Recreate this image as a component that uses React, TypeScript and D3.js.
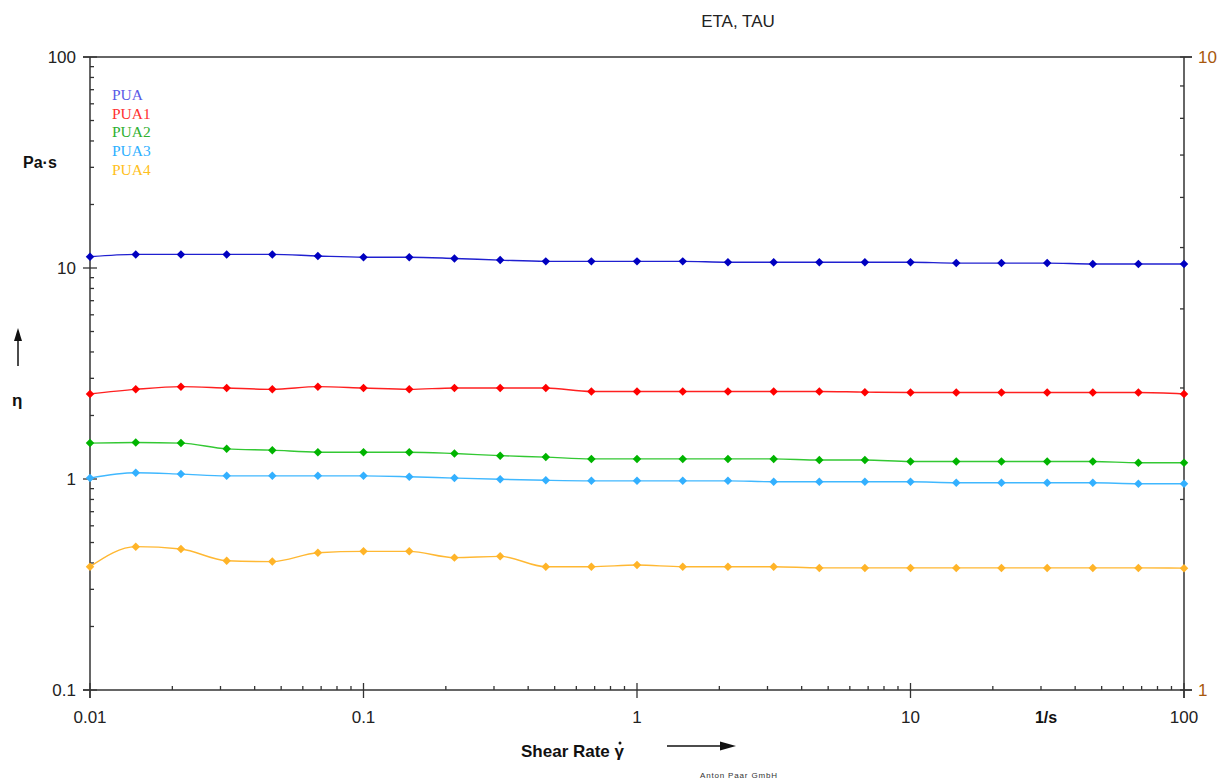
import React, { useEffect, useRef } from 'react';
import * as d3 from 'd3';

// shear rate points, 6 per decade
const shearRates = [
  0.01, 0.0147, 0.0215, 0.0316, 0.0464, 0.0681,
  0.1, 0.147, 0.215, 0.316, 0.464, 0.681,
  1, 1.47, 2.15, 3.16, 4.64, 6.81,
  10, 14.7, 21.5, 31.6, 46.4, 68.1, 100,
];

const pua = [11.3, 11.6, 11.6, 11.6, 11.6, 11.4, 11.25, 11.25, 11.1, 10.9, 10.75, 10.75, 10.75, 10.75, 10.65, 10.65, 10.65, 10.65, 10.65, 10.55, 10.55, 10.55, 10.45, 10.45, 10.45];
const pua1 = [2.53, 2.66, 2.74, 2.7, 2.66, 2.74, 2.7, 2.66, 2.7, 2.7, 2.7, 2.6, 2.6, 2.6, 2.6, 2.6, 2.6, 2.58, 2.57, 2.57, 2.57, 2.57, 2.57, 2.57, 2.53];
const pua2 = [1.48, 1.49, 1.48, 1.39, 1.37, 1.34, 1.34, 1.34, 1.32, 1.29, 1.27, 1.245, 1.245, 1.245, 1.245, 1.245, 1.23, 1.23, 1.21, 1.21, 1.21, 1.21, 1.21, 1.195, 1.195];
const pua3 = [1.01, 1.07, 1.055, 1.035, 1.035, 1.035, 1.035, 1.025, 1.01, 0.997, 0.986, 0.98, 0.98, 0.98, 0.98, 0.97, 0.97, 0.97, 0.97, 0.96, 0.96, 0.96, 0.96, 0.95, 0.95];
const pua4 = [0.384, 0.478, 0.466, 0.41, 0.406, 0.447, 0.454, 0.454, 0.424, 0.43, 0.384, 0.384, 0.391, 0.384, 0.384, 0.384, 0.379, 0.379, 0.379, 0.379, 0.379, 0.379, 0.379, 0.379, 0.378];

const seriesNames = ['PUA', 'PUA1', 'PUA2', 'PUA3', 'PUA4'];
const seriesValues = [pua, pua1, pua2, pua3, pua4];
const lineColors = ['#2020d0', '#ff2020', '#33c833', '#40b8ff', '#ffb833'];
const markerColors = ['#0000c0', '#ff0000', '#00b400', '#33b0ff', '#ffb428'];
const legendColors = ['#5a5ae6', '#ff3030', '#30b030', '#30b0ff', '#ffc020'];

const leftTickLabels = ['0.1', '1', '10', '100'];
const rightTickLabels = ['1', '10'];
const xTickLabels = ['0.01', '0.1', '1', '10', '100'];

const App = () => {
  const ref = useRef(null);

  useEffect(() => {
    const svg = d3.select(ref.current);
    svg.selectAll('*').remove();

    const left = 90, right = 1184, top = 57, bottom = 690;
    const x = d3.scaleLog().domain([0.01, 100]).range([left, right]);
    const y = d3.scaleLog().domain([0.1, 100]).range([bottom, top]);
    const yR = d3.scaleLog().domain([1, 10]).range([bottom, top]);
    const axisColor = '#333';
    const sans = '"Liberation Sans", Arial, sans-serif';
    const isMajor = (v) => Math.abs(Math.log10(v) - Math.round(Math.log10(v))) < 1e-6;

    const g = svg.append('g');

    // frame lines
    g.append('line').attr('x1', 83).attr('x2', 1192).attr('y1', top).attr('y2', top)
      .style('stroke', axisColor).style('stroke-width', 1.3);
    g.append('line').attr('x1', 83).attr('x2', 1192).attr('y1', bottom).attr('y2', bottom)
      .style('stroke', axisColor).style('stroke-width', 1.5);
    g.append('line').attr('x1', left).attr('x2', left).attr('y1', top).attr('y2', 698)
      .style('stroke', axisColor).style('stroke-width', 1.5);
    g.append('line').attr('x1', right).attr('x2', right).attr('y1', top).attr('y2', 698)
      .style('stroke', axisColor).style('stroke-width', 1.5);

    // left ticks
    y.ticks().forEach(v => {
      const yy = y(v);
      const major = isMajor(v);
      g.append('line').attr('x1', major ? 83 : left).attr('x2', major ? 97 : left + 4)
        .attr('y1', yy).attr('y2', yy).style('stroke', axisColor).style('stroke-width', 1.3);
    });
    y.ticks().filter(isMajor).forEach((v, i) => {
      g.append('text').attr('x', 76).attr('y', y(v) + 6).attr('text-anchor', 'end')
        .style('font', `17px ${sans}`).style('fill', '#222')
        .text(leftTickLabels[i]);
    });

    // right ticks
    yR.ticks().forEach(v => {
      const yy = yR(v);
      const major = isMajor(v);
      g.append('line').attr('x1', right - 4).attr('x2', major ? 1192 : right)
        .attr('y1', yy).attr('y2', yy).style('stroke', axisColor).style('stroke-width', 1.3);
    });
    yR.ticks().filter(isMajor).forEach((v, i) => {
      g.append('text').attr('x', 1198).attr('y', yR(v) + 6)
        .style('font', `17px ${sans}`).style('fill', '#a8580c')
        .text(rightTickLabels[i]);
    });

    // bottom ticks
    x.ticks().forEach(v => {
      const xx = x(v);
      const major = isMajor(v);
      g.append('line').attr('x1', xx).attr('x2', xx)
        .attr('y1', major ? 683 : bottom - 4).attr('y2', major ? 698 : bottom)
        .style('stroke', axisColor).style('stroke-width', 1.3);
    });
    x.ticks().filter(isMajor).forEach((v, i) => {
      g.append('text').attr('x', x(v)).attr('y', 723).attr('text-anchor', 'middle')
        .style('font', `17px ${sans}`).style('fill', '#222')
        .text(xTickLabels[i]);
    });

    // series
    const line = d3.line().x(d => x(d[0])).y(d => y(d[1])).curve(d3.curveMonotoneX);
    const diamond = d3.symbol().type(d3.symbolSquare).size(36);
    seriesValues.forEach((vals, si) => {
      const pts = shearRates.map((r, i) => [r, vals[i]]);
      g.append('path').attr('d', line(pts)).style('fill', 'none')
        .style('stroke', lineColors[si]).style('stroke-width', 1.4);
      g.selectAll('.m' + si).data(pts).enter().append('path')
        .attr('class', 'm' + si)
        .attr('d', diamond())
        .attr('transform', d => `translate(${x(d[0])},${y(d[1])}) rotate(45)`)
        .style('fill', markerColors[si]);
    });

    // legend
    seriesNames.forEach((name, i) => {
      g.append('text').attr('x', 112).attr('y', 100 + i * 18.7)
        .style('font', '15.5px "Liberation Serif", "Times New Roman", serif')
        .style('fill', legendColors[i]).text(name);
    });

    // titles and units
    g.append('text').attr('x', 738).attr('y', 27).attr('text-anchor', 'middle')
      .style('font', `17px ${sans}`).style('fill', '#222').text('ETA, TAU');
    g.append('text').attr('x', 23).attr('y', 168)
      .style('font', `bold 16px ${sans}`).style('fill', '#111').text('Pa·s');
    g.append('text').attr('x', 12).attr('y', 406)
      .style('font', `bold 17px ${sans}`).style('fill', '#111').text('η');
    g.append('line').attr('x1', 18).attr('x2', 18).attr('y1', 366).attr('y2', 338)
      .style('stroke', '#111').style('stroke-width', 1.5);
    g.append('path').attr('d', 'M18,328 L14,341 L22,341 Z').style('fill', '#111');

    g.append('text').attr('x', 1046).attr('y', 723).attr('text-anchor', 'middle')
      .style('font', `bold 16px ${sans}`).style('fill', '#111').text('1/s');

    g.append('text').attr('x', 521).attr('y', 757)
      .style('font', `bold 17px ${sans}`).style('fill', '#111').text('Shear Rate γ');
    // dot over gamma
    g.append('circle').attr('cx', 620).attr('cy', 743).attr('r', 1.5).style('fill', '#111');
    g.append('line').attr('x1', 667).attr('x2', 722).attr('y1', 746).attr('y2', 746)
      .style('stroke', '#111').style('stroke-width', 1.5);
    g.append('path').attr('d', 'M736,746 L720,741.5 L720,750.5 Z').style('fill', '#111');

    g.append('text').attr('x', 700).attr('y', 778).attr('textLength', 77)
      .style('font', `8px ${sans}`).style('fill', '#333').text('Anton Paar GmbH');
  }, []);

  return (
    <svg ref={ref} width={1223} height={782}
      style={{ position: 'absolute', left: 0, top: 0, background: '#fff' }} />
  );
};

export default App;
